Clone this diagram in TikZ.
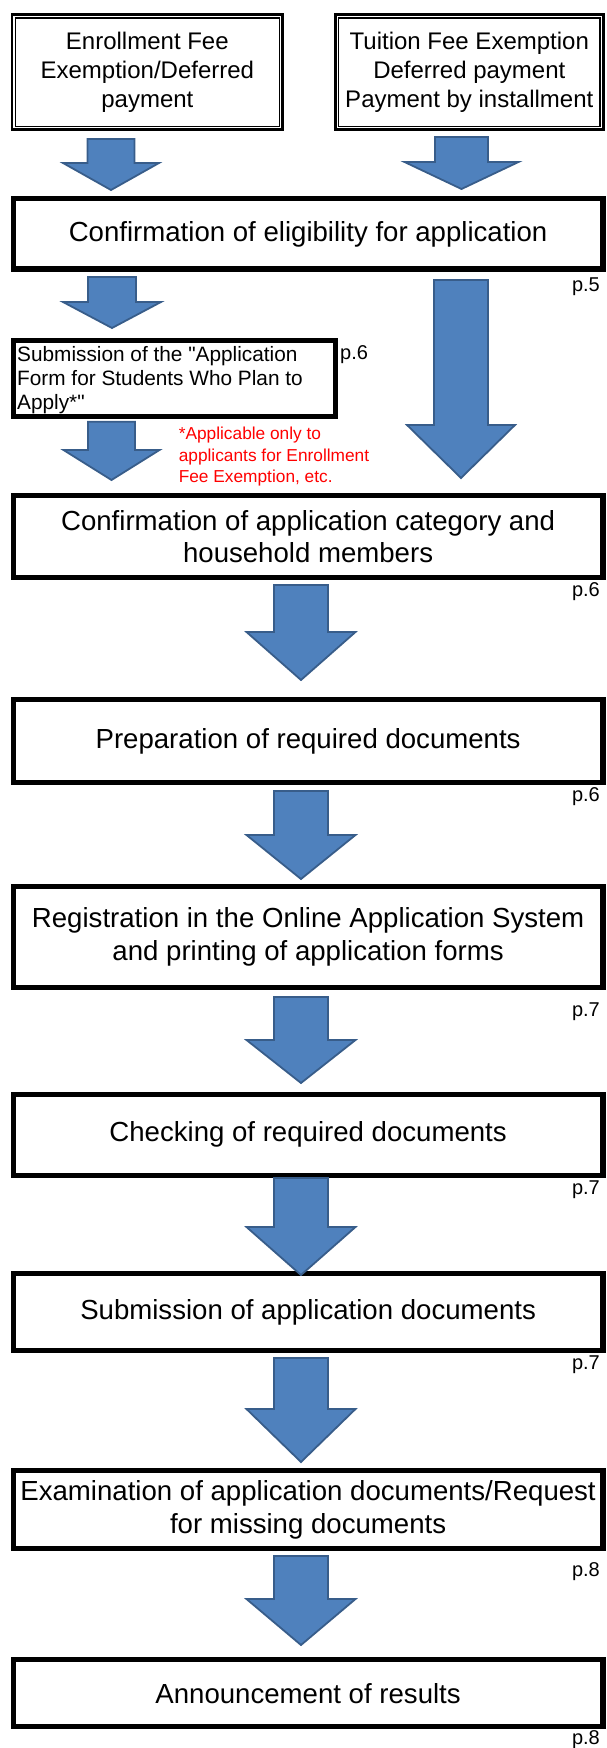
\documentclass[tikz,border=0pt]{standalone}
\usepackage{fontspec}
\setmainfont{Liberation Sans}
% same face without TeX ligature mapping, so " stays a straight quote
\newfontfamily\straightq{Liberation Sans}
\definecolor{arrowfill}{HTML}{4F81BD}
\definecolor{arrowline}{HTML}{385D8A}

\tikzset{
  choicebox/.style={draw, line width=2.7pt, inner sep=0pt, outer sep=0pt,
    align=center, font=\fontsize{24}{28.7}\selectfont},
  mainbox/.style={draw, line width=5.3pt, inner sep=0pt, outer sep=0pt,
    minimum width=589.5pt, align=center, font=\fontsize{27.6}{32.5}\selectfont},
  pagelabel/.style={anchor=east, inner sep=0pt, font=\fontsize{20}{24}\selectfont},
  blockarrow/.style={fill=arrowfill, draw=arrowline, line width=1.8pt, line join=miter},
}

% downward block arrow: centre x, top y, head y, tip y, half shaft width, half head width
\newcommand{\downblock}[6]{%
  \draw[blockarrow] ({#1-#5},#2) -- ({#1+#5},#2) -- ({#1+#5},#3) -- ({#1+#6},#3)
    -- (#1,#4) -- ({#1-#6},#3) -- ({#1-#5},#3) -- cycle;}

\begin{document}
\begin{tikzpicture}[x=1pt, y=-1pt]
\useasboundingbox (0,0) rectangle (606,1748);

% the two entry boxes with a thick/thin double frame
\node[choicebox, minimum width=270.6pt, minimum height=115pt] (enroll) at (147.35,72.15)
  {Enrollment Fee\\Exemption/Deferred\\payment};
\draw[line width=1.3pt] ([shift={(3.3pt,-3.3pt)}]enroll.north west)
  rectangle ([shift={(-3.3pt,3.3pt)}]enroll.south east);
\node[choicebox, minimum width=267.9pt, minimum height=115pt] (tuition) at (469.3,72.15)
  {Tuition Fee Exemption\\Deferred payment\\Payment by installment};
\draw[line width=1.3pt] ([shift={(3.3pt,-3.3pt)}]tuition.north west)
  rectangle ([shift={(-3.3pt,3.3pt)}]tuition.south east);

% main steps
\node[mainbox, minimum height=70.3pt] (elig) at (308.1,233.9)
  {Confirmation of eligibility for application};
\node[pagelabel] (pelig) at (600,287) {p.5};

\node[draw, line width=5.3pt, inner sep=0pt, outer sep=0pt,
  minimum width=322.1pt, minimum height=75.6pt] (plan) at (174.45,378.5) {};
\node[anchor=north west, align=left, inner sep=0pt,
  font=\fontsize{20.8}{24}\selectfont] (plantext) at (17,346)
  {Submission of the {\straightq"}Application\\Form for Students Who Plan to\\Apply*{\straightq"}};
\node[pagelabel, anchor=west] (pplan) at (340,355) {p.6};
\node[anchor=north west, align=left, inner sep=0pt, text=red,
  font=\fontsize{17.3}{21.5}\selectfont] (note) at (178.6,427)
  {*Applicable only to\\applicants for Enrollment\\Fee Exemption, etc.};

\node[mainbox, minimum height=82pt] (categ) at (308.1,536.7)
  {Confirmation of application category and\\household members};
\node[pagelabel] (pcateg) at (600,592) {p.6};

\node[mainbox, minimum height=82.6pt] (prep) at (308.1,741)
  {Preparation of required documents};
\node[pagelabel] (pprep) at (600,797) {p.6};

\node[mainbox, minimum height=101pt] (reg) at (308.1,936.7)
  {Registration in the Online Application System\\and printing of application forms};
\node[pagelabel] (preg) at (600,1012) {p.7};

\node[mainbox, minimum height=81pt] (check) at (308.1,1134.7)
  {Checking of required documents};
\node[pagelabel] (pcheck) at (600,1190) {p.7};

\node[mainbox, minimum height=76.6pt] (submit) at (308.1,1312)
  {Submission of application documents};
\node[pagelabel] (psubmit) at (600,1365) {p.7};

\node[mainbox, minimum height=78pt] (exam) at (308.1,1509.8)
  {Examination of application documents/Request\\for missing documents};
\node[pagelabel] (pexam) at (600,1572) {p.8};

\node[mainbox, minimum height=67pt] (result) at (308.1,1693.3)
  {Announcement of results};
\node[pagelabel] (presult) at (600,1740) {p.8};

% block arrows
\downblock{111}{139}{163}{190}{23.5}{48}
\downblock{461.5}{137}{162}{189}{26.5}{57}
\downblock{112}{277}{302}{328}{24}{49}
\downblock{461}{280}{425}{478}{27}{54}
\downblock{111.5}{421.7}{450}{480}{23.5}{48}
\downblock{301}{585}{632}{680}{27}{54.5}
\downblock{301}{791}{835}{879}{27}{54.5}
\downblock{301}{997}{1040}{1083}{27}{54.5}
\downblock{301}{1178}{1227}{1275}{27}{54.5}
\downblock{301}{1358}{1409}{1462}{27}{54.5}
\downblock{301}{1556}{1599}{1645}{27}{54.5}
\end{tikzpicture}
\end{document}
